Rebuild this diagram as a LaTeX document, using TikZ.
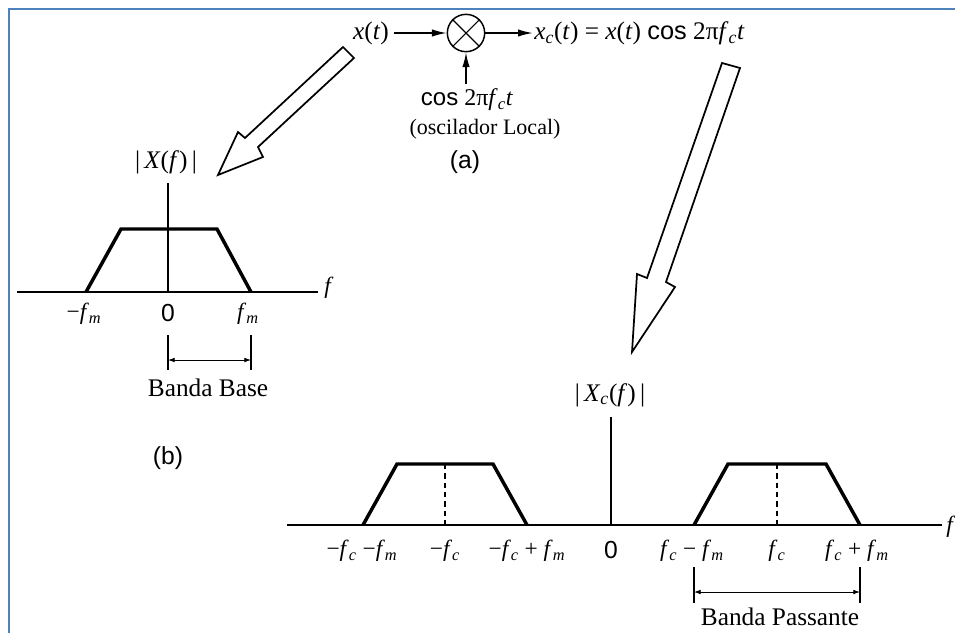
\documentclass[tikz,border=0pt]{standalone}
\usepackage{fix-cm}
\usepackage{fontspec}
\setmainfont{Liberation Serif}
\setsansfont{Liberation Sans}
\usetikzlibrary{arrows.meta}
\definecolor{frameblue}{RGB}{79,129,189}
\newcommand\iv[1]{\textit{#1}}
\newcommand\sbs[1]{\textsubscript{\textit{#1}}}
\begin{document}
\begin{tikzpicture}[x=0.75pt,y=-0.75pt,
  mathlbl/.style={inner sep=0pt, font=\fontsize{17.5}{19}\selectfont},
  toplbl/.style={inner sep=0pt, font=\fontsize{19}{21}\selectfont},
  coslbl/.style={inner sep=0pt, font=\fontsize{18}{20}\selectfont},
  maglbl/.style={inner sep=0pt, font=\fontsize{19}{21}\selectfont},
  seriflbl/.style={inner sep=0pt, font=\fontsize{19}{21}\selectfont},
  osclbl/.style={inner sep=0pt, font=\fontsize{16.5}{18}\selectfont},
  sanslbl/.style={inner sep=0pt, font=\sffamily\fontsize{18.5}{20}\selectfont},
  sig/.style={-{Latex[length=11pt,width=5.5pt]}, line width=1pt},
  axisline/.style={line width=1.2pt},
  spec/.style={line width=2.6pt, line join=miter},
  dashline/.style={line width=0.8pt, dash pattern=on 4pt off 3pt},
  bracket/.style={line width=0.8pt},
  span/.style={{Latex[length=5pt,width=3.5pt]}-{Latex[length=5pt,width=3.5pt]}, line width=0.6pt},
  hollow/.style={draw, fill=white, line width=1.3pt, line join=miter},
]
\useasboundingbox (0,0) rectangle (955,633);
\fill[white] (0,0) rectangle (955,633);
\draw[frameblue, line width=1.6pt] (9,633) -- (9,9) -- (955,9);

% ---- (a) block diagram ----
\node[draw, circle, line width=1.1pt, minimum size=28pt, inner sep=0pt] (mix) at (466,33) {};
\draw[line width=0.8pt] (mix.north west) -- (mix.south east);
\draw[line width=0.8pt] (mix.north east) -- (mix.south west);
\node[toplbl] (xt) at (371,33) {\iv{x}(\iv{t})};
\node[toplbl, anchor=west] (out) at (534,33) {\iv{x}\sbs{c}(\iv{t}) = \iv{x}(\iv{t}) \textsf{cos} 2π\iv{f}\sbs{c}\iv{t}};
\node[coslbl] (cosl) at (467,100) {\textsf{cos} 2π\iv{f}\sbs{c}\iv{t}};
\node[osclbl] (osc) at (485,129) {(oscilador Local)};
\node[sanslbl] (alab) at (465,162) {(a)};
\coordinate (cosin) at (466,84);
\draw[sig] ([xshift=4pt]xt.east) -- (mix.west);
\draw[sig] (mix.east) -- ([xshift=-1pt]out.west);
\draw[sig] (cosin) -- (mix.south);

% ---- hollow arrows ----
\draw[hollow] (343,47) -- (354,58) -- (258,147) -- (263,157) -- (218,175) -- (238,132) -- (245,138) -- cycle;
\draw[hollow] (722,63) -- (740,68) -- (666,282) -- (675,287) -- (632,352) -- (637,274) -- (647,278) -- cycle;

% ---- (b) baseband spectrum ----
\draw[axisline] (17,292) -- (318,292);
\draw[axisline] (168,183) -- (168,292);
\draw[spec] (86,292) -- (121,229) -- (217,229) -- (251,292);
\node[mathlbl] (fb) at (329,288) {\iv{f}};
\node[maglbl] (Xf) at (166,162) {|\,\iv{X}(\iv{f})\,|};
\node[mathlbl] (lfm) at (84,314) {−\iv{f}\sbs{m}};
\node[sanslbl] (lz) at (168,313) {0};
\node[mathlbl] (lfmp) at (248,314) {\iv{f}\sbs{m}};
\draw[bracket] (168,335) -- (168,370);
\draw[bracket] (251,335) -- (251,370);
\coordinate (bbl) at (168,360);
\coordinate (bbr) at (251,360);
\draw[span] (bbl) -- (bbr);
\node[seriflbl] (bb) at (208,388) {Banda Base};
\node[sanslbl] (blab) at (168,458) {(b)};

% ---- bandpass spectrum ----
\draw[axisline] (287,525) -- (942,525);
\draw[axisline] (611,417) -- (611,525);
\draw[spec] (363,525) -- (397,464) -- (493,464) -- (527,525);
\draw[spec] (694,525) -- (728,464) -- (826,464) -- (860,525);
\draw[dashline] (445,464) -- (445,525);
\draw[dashline] (777,464) -- (777,525);
\node[mathlbl] (fp) at (951,527) {\iv{f}};
\node[maglbl] (Xcf) at (610,395) {|\,\iv{X}\sbs{c}(\iv{f})\,|};
\node[mathlbl] (l1) at (362,551) {−\iv{f}\sbs{c} −\iv{f}\sbs{m}};
\node[mathlbl] (l2) at (445,551) {−\iv{f}\sbs{c}};
\node[mathlbl] (l3) at (527,551) {−\iv{f}\sbs{c} + \iv{f}\sbs{m}};
\node[sanslbl] (l4) at (611,550) {0};
\node[mathlbl] (l5) at (692,551) {\iv{f}\sbs{c} − \iv{f}\sbs{m}};
\node[mathlbl] (l6) at (777,551) {\iv{f}\sbs{c}};
\node[mathlbl] (l7) at (857,551) {\iv{f}\sbs{c} + \iv{f}\sbs{m}};
\draw[bracket] (694,567) -- (694,603);
\draw[bracket] (860,567) -- (860,603);
\coordinate (bpl) at (694,592);
\coordinate (bpr) at (860,592);
\draw[span] (bpl) -- (bpr);
\node[seriflbl] (bp) at (780,617) {Banda Passante};
\end{tikzpicture}
\end{document}
